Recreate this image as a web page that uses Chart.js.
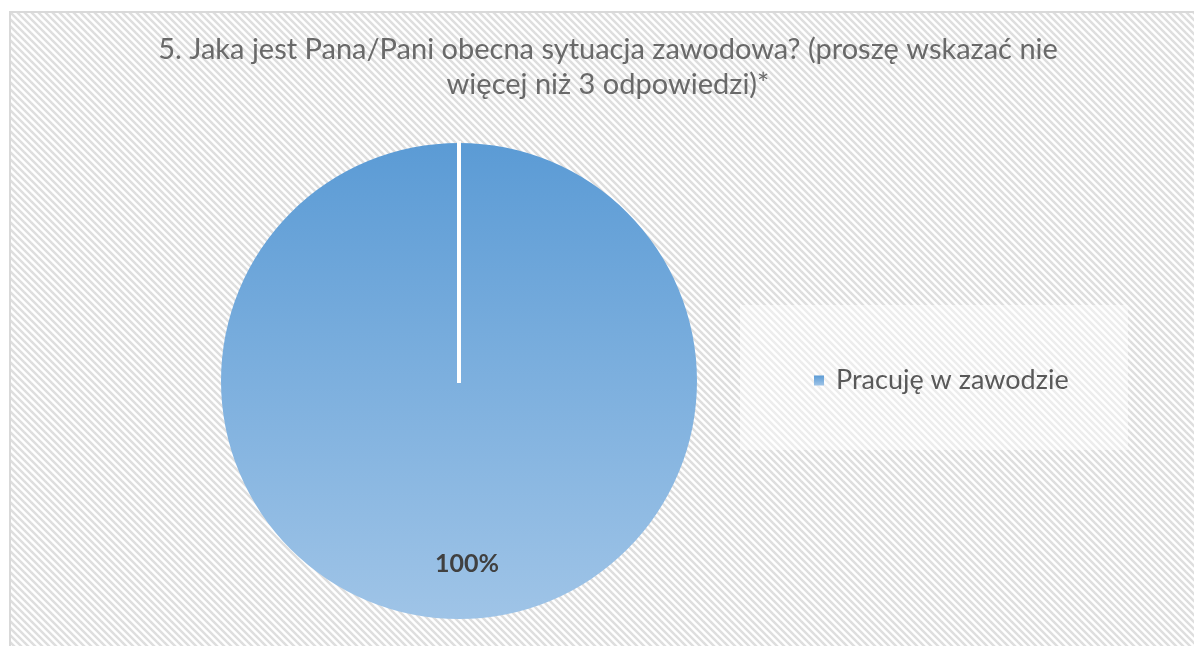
<!DOCTYPE html>
<html>
<head>
<meta charset="utf-8">
<script src="https://cdn.jsdelivr.net/npm/chart.js@4.4.1/dist/chart.umd.min.js"></script>
<style>
  html, body { margin: 0; padding: 0; background: #fff; overflow: hidden; }
  #frame {
    position: absolute; left: 9px; top: 11px;
    border-left: 2px solid #d9d9d9; border-top: 2px solid #d9d9d9;
    width: 1194px; height: 640px;
  }
  canvas { display: block; }
</style>
</head>
<body>
<div id="frame"><canvas id="chart" width="1194" height="640"></canvas></div>
<script>
// data
const titleLines = ['5. Jaka jest Pana/Pani obecna sytuacja zawodowa? (proszę wskazać nie', 'więcej niż 3 odpowiedzi)*'];
const categories = ['Pracuję w zawodzie'];
const shares = [100];

const FONT = 'Lato, "Open Sans", sans-serif';

// blue gradient like the office fill
function blueFill(ctx, top, bottom) {
  const g = ctx.createLinearGradient(0, top, 0, bottom);
  g.addColorStop(0, '#5b9bd5');
  g.addColorStop(1, '#9fc4e7');
  return g;
}

// hatched chart background
function hatch() {
  const c = document.createElement('canvas');
  c.width = 7; c.height = 7;
  const x = c.getContext('2d');
  x.fillStyle = '#ffffff';
  x.fillRect(0, 0, 7, 7);
  x.strokeStyle = '#dedede';
  x.lineWidth = 2.5;
  for (let k = -7; k <= 7; k += 7) {
    x.beginPath();
    x.moveTo(k - 1, -1);
    x.lineTo(k + 8, 8);
    x.stroke();
  }
  return c;
}

const bgPlugin = {
  id: 'bg',
  beforeDraw(chart) {
    const ctx = chart.ctx;
    ctx.save();
    ctx.fillStyle = ctx.createPattern(hatch(), 'repeat');
    ctx.fillRect(0, 0, chart.width, chart.height);
    // title, centred on the whole chart (the title plugin would be squeezed by the padding)
    ctx.fillStyle = '#696969';
    ctx.font = '29px ' + FONT;
    ctx.textAlign = 'center';
    ctx.textBaseline = 'middle';
    titleLines.forEach((t, i) => ctx.fillText(t, 597, 37 + i * 35));
    ctx.restore();
  }
};

// white seam at the start of the slice + percentage label
const sliceExtras = {
  id: 'sliceExtras',
  afterDatasetsDraw(chart) {
    const ctx = chart.ctx;
    const arc = chart.getDatasetMeta(0).data[0];
    const { x, y, outerRadius, startAngle, endAngle } = arc.getProps(['x', 'y', 'outerRadius', 'startAngle', 'endAngle']);
    ctx.save();
    ctx.strokeStyle = '#ffffff';
    ctx.lineWidth = 4;
    ctx.beginPath();
    ctx.moveTo(x, y + 2);
    ctx.lineTo(x + Math.cos(startAngle) * (outerRadius + 2), y + Math.sin(startAngle) * (outerRadius + 2));
    ctx.stroke();

    const mid = (startAngle + endAngle) / 2;
    const total = shares.reduce((a, b) => a + b, 0);
    ctx.fillStyle = '#404040';
    ctx.font = 'bold 25px ' + FONT;
    ctx.textAlign = 'center';
    ctx.textBaseline = 'middle';
    ctx.fillText(Math.round(shares[0] / total * 100) + '%', x + Math.cos(mid) * outerRadius * 0.77 + 8, y + Math.sin(mid) * outerRadius * 0.77);
    ctx.restore();
  }
};

// legend in its own box on the right
const sideLegend = {
  id: 'sideLegend',
  afterDraw(chart) {
    const ctx = chart.ctx;
    const bx = 729, by = 292, bw = 388, bh = 145;
    ctx.save();
    ctx.fillStyle = 'rgba(255,255,255,0.45)';
    ctx.fillRect(bx, by, bw, bh);
    const cy = by + bh / 2 + 3;
    ctx.fillStyle = blueFill(ctx, cy - 5, cy + 5);
    ctx.fillRect(803, cy - 5, 10, 10);
    ctx.fillStyle = '#595959';
    ctx.font = '27px ' + FONT;
    ctx.textBaseline = 'middle';
    ctx.fillText(chart.data.labels[0], 825, cy);
    ctx.restore();
  }
};

new Chart(document.getElementById('chart'), {
  type: 'pie',
  data: {
    labels: categories,
    datasets: [{
      data: shares,
      backgroundColor: (c) => {
        const a = c.chart.chartArea;
        if (!a) return '#5b9bd5';
        const cy = (a.top + a.bottom) / 2, r = Math.min(a.width, a.height) / 2;
        return blueFill(c.chart.ctx, cy - r, cy + r);
      },
      borderWidth: 0
    }]
  },
  options: {
    responsive: false,
    animation: false,
    layout: { padding: { left: 210, right: 508, top: 100, bottom: 4 } },
    plugins: {
      legend: { display: false },
      tooltip: { enabled: false },
      title: { display: false }
    }
  },
  plugins: [bgPlugin, sliceExtras, sideLegend]
});
</script>
</body>
</html>
